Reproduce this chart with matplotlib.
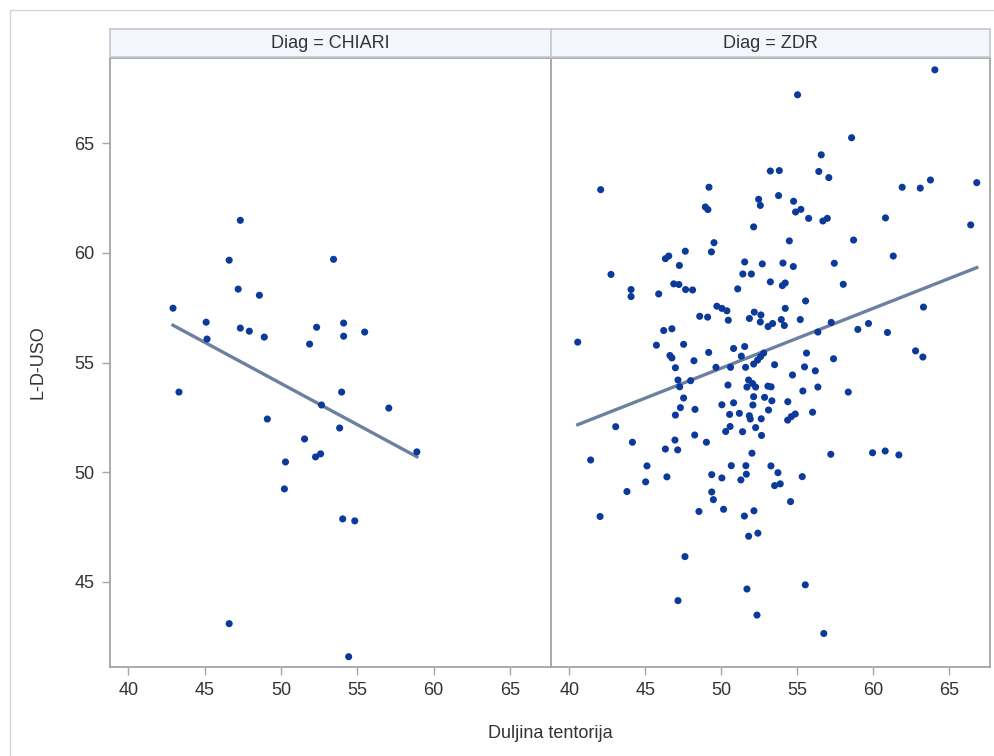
import numpy as np
import matplotlib
matplotlib.use("Agg")
import matplotlib.pyplot as plt
from matplotlib.patches import Rectangle

plt.rcParams['font.family'] = ['Liberation Sans', 'DejaVu Sans']

# --- Data ---
PANELS = ["CHIARI", "ZDR"]

chiari_x = [42.93, 43.32, 45.10, 45.16, 46.61, 46.61, 47.34, 47.20, 47.34, 47.93,
            48.59, 48.91, 49.11, 50.30, 50.23, 51.55, 51.88, 52.27, 52.60, 52.34,
            52.66, 53.45, 53.85, 53.98, 54.05, 54.11, 54.11, 54.44, 54.84, 55.49,
            57.07, 58.91]
chiari_y = [57.48, 53.65, 56.84, 56.07, 43.08, 59.67, 61.49, 58.35, 56.57, 56.43,
            58.07, 56.16, 52.42, 50.46, 49.23, 51.51, 55.84, 50.69, 50.83, 56.61,
            53.06, 59.71, 52.01, 53.65, 47.86, 56.80, 56.20, 41.57, 47.77, 56.39,
            52.92, 50.92]

zdr_x = [
    # upper left
    42.07, 53.24, 49.20, 48.96, 49.13, 52.47, 52.58, 52.14, 49.53, 47.64, 49.36,
    # upper right
    64.07, 55.03, 58.59, 56.59, 53.83, 56.43, 57.09, 61.92, 63.11, 63.78, 66.83,
    53.78, 54.77, 54.90, 55.25, 55.76, 56.70, 56.99, 60.82, 66.43, 54.49, 58.72,
    # middle left
    46.55, 46.33, 47.25, 51.55, 52.71, 51.43, 51.99, 53.24, 42.75, 44.07, 44.07,
    45.89, 46.88, 47.22, 47.66, 48.12, 51.09, 49.72, 50.05, 50.38, 48.59, 49.11,
    50.47, 52.18, 51.86, 52.62, 52.58, 53.09, 46.22, 46.76, 40.56, 45.74, 47.53,
    49.18, 50.82, 51.55, 46.63, 46.76, 48.21, 51.33, 52.14, 52.40, 52.60, 52.80,
    46.99, 49.66, 50.62, 51.61, 47.16, 47.27, 47.99, 51.81, 52.07, 52.27, 51.70,
    53.08, 53.29, 50.45, 47.53, 52.14, 52.86, 50.82, 50.05, 52.09, 47.32, 48.28,
    53.12, 46.99, 50.56, 51.20, 51.86, 51.92, 52.64, 43.06, 50.59, 50.30, 51.41,
    52.27, 52.66, 48.26, 44.16, 46.96, 49.03,
    # middle right
    61.33, 54.07, 54.75, 57.45, 54.03, 54.22, 58.04, 55.56, 54.22, 63.32, 53.96,
    54.16, 53.39, 55.21, 57.25, 56.37, 59.00, 59.70, 60.95, 62.80, 63.28, 55.62,
    57.40, 53.52, 55.49, 56.20, 54.70, 55.38, 56.37, 58.37, 53.34, 54.39, 54.38,
    54.62, 54.88, 56.02,
    # lower left
    46.33, 47.14, 52.03, 41.41, 45.12, 46.43, 45.03, 43.80, 42.03, 49.38, 50.05,
    50.67, 51.63, 51.66, 51.30, 53.28, 49.38, 49.49, 48.54, 50.16, 51.53, 52.16,
    51.81, 52.42, 47.62, 47.16, 51.70, 52.36,
    # lower right
    57.22, 59.97, 60.80, 61.70, 53.74, 53.52, 53.89, 55.34, 54.57, 55.54, 56.76,
]
zdr_y = [
    62.89, 63.74, 63.00, 62.10, 61.98, 62.45, 62.17, 61.19, 60.47, 60.08, 60.05,
    68.36, 67.22, 65.26, 64.48, 63.76, 63.72, 63.44, 63.00, 62.96, 63.33, 63.21,
    62.62, 62.36, 61.87, 61.99, 61.58, 61.46, 61.58, 61.60, 61.28, 60.55, 60.59,
    59.86, 59.74, 59.43, 59.59, 59.50, 59.04, 59.04, 58.68, 59.02, 58.33, 58.01,
    58.13, 58.59, 58.56, 58.33, 58.31, 58.36, 57.57, 57.47, 57.36, 57.11, 57.07,
    56.93, 57.30, 57.01, 57.17, 56.85, 56.64, 56.46, 56.54, 55.93, 55.79, 55.83,
    55.46, 55.64, 55.73, 55.32, 55.21, 55.08, 55.29, 54.93, 55.11, 55.27, 55.43,
    54.76, 54.78, 54.78, 54.78, 54.20, 53.89, 54.17, 54.20, 54.04, 53.88, 53.88,
    53.92, 53.89, 53.97, 53.38, 53.44, 53.41, 53.16, 53.07, 53.06, 52.94, 52.86,
    52.83, 52.60, 52.63, 52.68, 52.57, 52.42, 52.43, 52.07, 52.08, 51.85, 51.84,
    52.03, 51.67, 51.69, 51.36, 51.46, 51.36,
    59.86, 59.54, 59.38, 59.53, 58.51, 58.63, 58.57, 57.81, 57.47, 57.53, 56.96,
    56.69, 56.78, 56.96, 56.83, 56.39, 56.51, 56.78, 56.37, 55.53, 55.25, 55.43,
    55.17, 54.90, 54.80, 54.62, 54.43, 53.70, 53.88, 53.65, 53.25, 53.21, 52.37,
    52.53, 52.65, 52.73,
    51.05, 51.01, 50.86, 50.55, 50.28, 49.78, 49.55, 49.11, 47.97, 49.88, 49.73,
    50.29, 50.29, 49.90, 49.64, 50.28, 49.09, 48.74, 48.20, 48.30, 47.99, 48.23,
    47.07, 47.21, 46.14, 44.13, 44.66, 43.47,
    50.81, 50.88, 50.96, 50.78, 49.97, 49.38, 49.46, 49.79, 48.65, 44.85, 42.63,
]

X_TICKS = [40, 45, 50, 55, 60, 65]
Y_TICKS = [45, 50, 55, 60, 65]

# --- Style ---
MARKER = '#0b3a9a'
FIT = '#6c809f'
FRAME = '#a6a6a6'
TEXT = '#333333'
HEADER_BG = '#f3f6fc'
X_LIM = (38.8, 67.7)
Y_LIM = (41.1, 68.9)

W, H = 995, 756
fig = plt.figure(figsize=(W / 100, H / 100), dpi=100)


def box(x0, y0, x1, y1):
    # pixel box (top-left origin) -> figure rect
    return [x0 / W, 1 - y1 / H, (x1 - x0) / W, (y1 - y0) / H]


panel_cols = [(110, 551), (551, 990)]
data = [(chiari_x, chiari_y), (zdr_x, zdr_y)]

for i, (name, (xs, ys), (c0, c1)) in enumerate(zip(PANELS, data, panel_cols)):
    ax = fig.add_axes(box(c0, 58, c1, 667))
    ax.scatter(xs, ys, s=26, color=MARKER, edgecolors='none', zorder=3)

    coef = np.polyfit(xs, ys, 1)
    fx = np.array([min(xs), max(xs)])
    ax.plot(fx, np.polyval(coef, fx), color=FIT, lw=2.4, zorder=2)

    ax.set_xlim(*X_LIM)
    ax.set_ylim(*Y_LIM)
    ax.set_xticks(X_TICKS)
    ax.set_yticks(Y_TICKS)
    ax.tick_params(direction='out', length=6, width=1, color=FRAME,
                   labelcolor=TEXT, labelsize=13, pad=5)
    if i > 0:
        ax.tick_params(axis='y', left=False, labelleft=False)
    for sp in ax.spines.values():
        sp.set_color(FRAME)
        sp.set_linewidth(1.3)

    hax = fig.add_axes(box(c0, 29, c1, 57))
    hax.set_facecolor(HEADER_BG)
    hax.set_xticks([])
    hax.set_yticks([])
    for sp in hax.spines.values():
        sp.set_color('#c4c8cf')
        sp.set_linewidth(1.2)
    hax.text(0.5, 0.5, f"Diag = {name}", ha='center', va='center',
             fontsize=13, color=TEXT, transform=hax.transAxes)

fig.text(550 / W, 1 - 733 / H, 'Duljina tentorija', ha='center', va='center',
         fontsize=13, color=TEXT)
fig.text(38 / W, 1 - 362 / H, 'L-D-USO', ha='center', va='center',
         rotation=90, fontsize=13, color=TEXT)

# thin outer frame of the output
fig.add_artist(Rectangle((10 / W, -0.01), 1, 1 - 10 / H + 0.01,
                         transform=fig.transFigure, fill=False,
                         edgecolor='#d6d6d6', lw=1))

fig.savefig('out.png', dpi=100)
